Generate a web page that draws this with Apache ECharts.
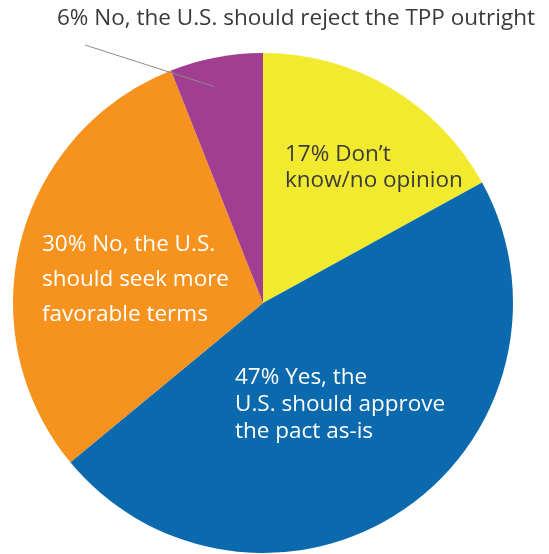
<!DOCTYPE html>
<html>
<head>
<meta charset="utf-8">
<script src="https://cdn.jsdelivr.net/npm/echarts@6/dist/echarts.min.js"></script>
<style>
html,body{margin:0;padding:0;background:#fff;}
#chart{width:549px;height:554px;}
</style>
</head>
<body>
<div id="chart"></div>
<script>
var categories = [
  "Don\u2019t\nknow/no opinion",
  "Yes, the\nU.S. should approve\nthe pact as-is",
  "No, the U.S.\nshould seek more\nfavorable terms",
  "No, the U.S. should reject the TPP outright"
];
var values = [17, 47, 30, 6];
var colors = ["#F2EA2F", "#0B69AE", "#F6921E", "#A23E8F"];

var labelCfg = [
  {color: "#3a3a3a", lineHeight: 26, x: 285, y: 142},
  {color: "#ffffff", lineHeight: 27, x: 235, y: 364},
  {color: "#ffffff", lineHeight: 35, x: 42, y: 227},
  {color: "#3a3a3a", lineHeight: 26, x: 57, y: 6}
];

var cx = 263, cy = 303, R = 250;

var data = values.map(function (v, i) {
  return {
    value: v,
    name: categories[i],
    itemStyle: {color: colors[i]},
    label: {color: labelCfg[i].color, lineHeight: labelCfg[i].lineHeight},
    labelLine: {show: false}
  };
});

// leader line for the small slice: from inside the slice to near the label
var total = values.reduce(function (a, b) { return a + b; }, 0);
var before = values.slice(0, 3).reduce(function (a, b) { return a + b; }, 0);
var midFrac = (before + values[3] * 0.41) / total;
var ang = (90 - 360 * midFrac) * Math.PI / 180;
var r0 = 0.888 * R;
var lx1 = cx + r0 * Math.cos(ang), ly1 = cy - r0 * Math.sin(ang);
var lx2 = labelCfg[3].x + 28, ly2 = labelCfg[3].y + 39;

var chart = echarts.init(document.getElementById('chart'), null, {renderer: 'canvas'});
chart.setOption({
  animation: false,
  series: [{
    type: 'pie',
    center: [cx, cy],
    radius: R,
    startAngle: 90,
    clockwise: true,
    avoidLabelOverlap: false,
    itemStyle: {borderWidth: 0},
    label: {
      show: true,
      position: 'inside',
      fontFamily: 'Open Sans',
      fontSize: 22.5,
      align: 'left',
      formatter: function (p) { return p.value + '% ' + p.name; }
    },
    labelLayout: function (params) {
      var c = labelCfg[params.dataIndex];
      return {x: c.x, y: c.y, align: 'left', verticalAlign: 'top'};
    },
    data: data
  }],
  graphic: [{
    type: 'line',
    z: 100,
    shape: {x1: lx1, y1: ly1, x2: lx2, y2: ly2},
    style: {stroke: '#8c8c8c', lineWidth: 1}
  }]
});
</script>
</body>
</html>
